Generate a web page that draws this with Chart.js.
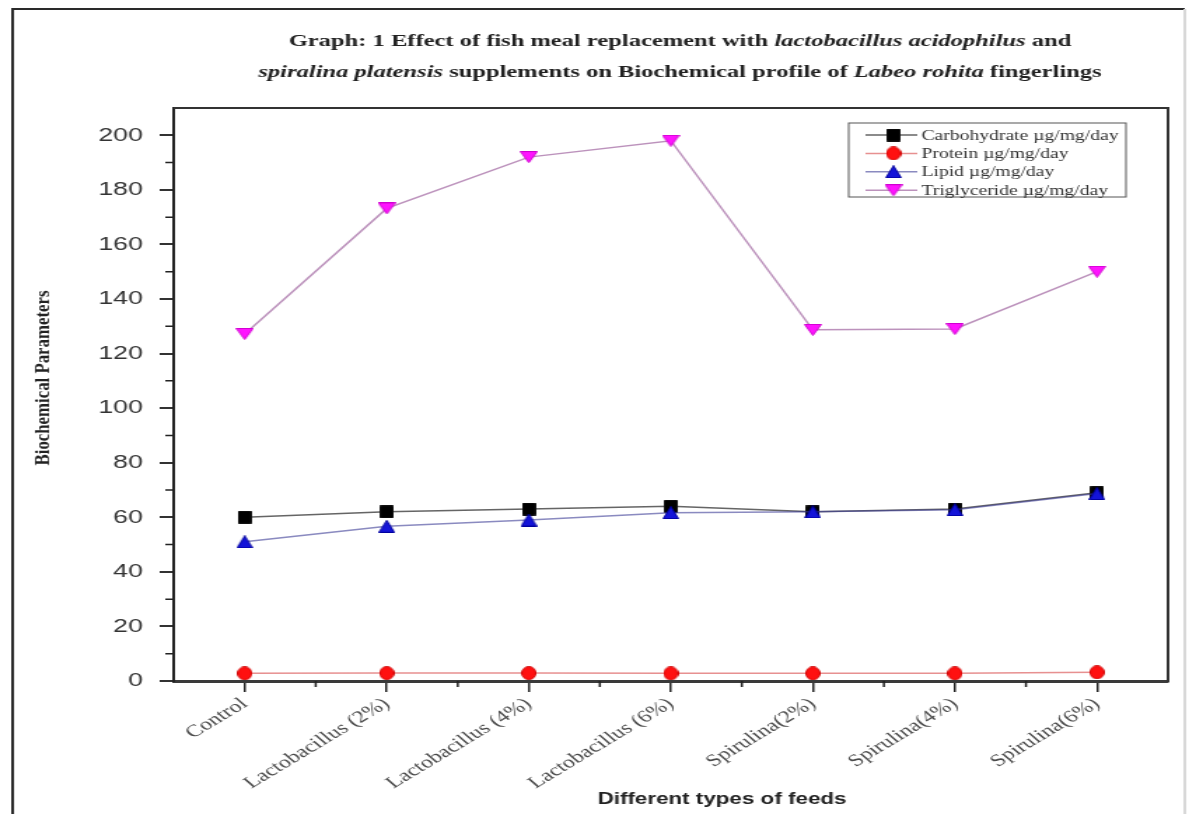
<!DOCTYPE html>
<html>
<head>
<meta charset="utf-8">
<title>Biochemical profile of Labeo rohita fingerlings</title>
<script src="https://cdn.jsdelivr.net/npm/chart.js@4.4.1/dist/chart.umd.min.js"></script>
<style>
  html, body { margin: 0; padding: 0; background: #fff; }
</style>
</head>
<body>
<!-- the figure is a horizontally stretched scan, so the canvas is drawn narrow and widened by css -->
<canvas id="graph" width="849" height="814" style="display:block;width:1189px;height:814px;"></canvas>
<script>
const SX = 1189 / 849;

const feeds = ['Control', 'Lactobacillus (2%)', 'Lactobacillus (4%)', 'Lactobacillus (6%)',
               'Spirulina(2%)', 'Spirulina(4%)', 'Spirulina(6%)'];
const carbohydrate = [60, 62, 63, 64, 62, 63, 69];
const protein = [2.8, 2.9, 2.9, 2.8, 2.8, 2.8, 3.2];
const lipid = [51, 56.7, 59, 61.7, 62, 62.8, 68.7];
const triglyceride = [127.2, 173.2, 192, 198, 128.7, 129, 150];
const seriesNames = ['Carbohydrate µg/mg/day', 'Protein µg/mg/day', 'Lipid µg/mg/day', 'Triglyceride µg/mg/day'];

const titleLine1 = [['Graph: 1 Effect of fish meal replacement with ', false],
                    ['lactobacillus acidophilus', true], [' and', false]];
const titleLine2 = [['spiralina platensis', true], [' supplements on Biochemical profile of ', false],
                    ['Labeo rohita', true], [' fingerlings', false]];
const yTitle = 'Biochemical Parameters';
const xTitle = 'Different types of feeds';

function marker(shape, fill, stroke, w, h) {
    const c = document.createElement('canvas');
    c.width = w;
    c.height = h;
    const g = c.getContext('2d');
    g.fillStyle = fill;
    g.strokeStyle = stroke;
    g.lineWidth = 1;
    g.beginPath();
    if (shape === 'square') {
        g.rect(0.5, 0.5, w - 1, h - 1);
    } else if (shape === 'circle') {
        g.ellipse(w / 2, h / 2, w / 2 - 0.5, h / 2 - 0.5, 0, 0, Math.PI * 2);
    } else if (shape === 'up') {
        g.moveTo(w / 2, 0.5); g.lineTo(w - 0.5, h - 0.5); g.lineTo(0.5, h - 0.5); g.closePath();
    } else {
        g.moveTo(0.5, 0.5); g.lineTo(w - 0.5, 0.5); g.lineTo(w / 2, h - 0.5); g.closePath();
    }
    g.fill();
    g.stroke();
    return c;
}

const markers = [
    marker('square', '#000', '#111', 10, 13),
    marker('circle', '#ff1010', '#d00000', 11, 14),
    marker('up', '#1414d8', '#0000a0', 12, 13),
    marker('down', '#ff14ff', '#d000d0', 13, 12)
];
const lineColors = ['rgba(50,50,50,0.75)', 'rgba(215,70,70,0.6)', 'rgba(60,60,150,0.6)', 'rgba(160,100,160,0.7)'];

const paperPlugin = {
    id: 'paper',
    beforeDraw: (chart) => {
        const ctx = chart.ctx;
        ctx.save();
        ctx.fillStyle = '#fff';
        ctx.fillRect(0, 0, chart.width, chart.height);
        ctx.lineWidth = 2;
        ctx.strokeStyle = '#2a2a2a';
        ctx.beginPath();
        ctx.moveTo(9, 830);
        ctx.lineTo(9, 9);
        ctx.lineTo(846, 9);
        ctx.stroke();
        ctx.strokeStyle = '#d8d8d8';
        ctx.beginPath();
        ctx.moveTo(846, 9);
        ctx.lineTo(846, 830);
        ctx.stroke();
        ctx.restore();
    }
};

function drawRuns(ctx, runs, cx, y) {
    const fontFor = it => (it ? 'italic ' : '') + 'bold 17.5px "Liberation Serif", serif';
    let total = 0;
    runs.forEach(r => { ctx.font = fontFor(r[1]); total += ctx.measureText(r[0]).width; });
    let x = cx - total / 2;
    runs.forEach(r => {
        ctx.font = fontFor(r[1]);
        ctx.fillText(r[0], x, y);
        x += ctx.measureText(r[0]).width;
    });
}

const decorPlugin = {
    id: 'decor',
    afterDraw: (chart) => {
        const ctx = chart.ctx;
        const area = chart.chartArea;
        const xs = chart.scales.x;
        const ys = chart.scales.y;
        ctx.save();

        // top and right edges of the plot box
        ctx.strokeStyle = '#333';
        ctx.lineWidth = 2;
        ctx.beginPath();
        ctx.moveTo(area.left, area.top);
        ctx.lineTo(area.right, area.top);
        ctx.lineTo(area.right, area.bottom + 1);
        ctx.stroke();

        // minor ticks
        ctx.lineWidth = 1.5;
        ctx.strokeStyle = '#222';
        ctx.beginPath();
        for (let v = 10; v < 200; v += 20) {
            const y = ys.getPixelForValue(v);
            ctx.moveTo(area.left - 6, y);
            ctx.lineTo(area.left, y);
        }
        for (let i = 0; i < feeds.length - 1; i++) {
            const x = (xs.getPixelForValue(i) + xs.getPixelForValue(i + 1)) / 2;
            ctx.moveTo(x, area.bottom);
            ctx.lineTo(x, area.bottom + 6);
        }
        ctx.stroke();

        // title
        ctx.fillStyle = '#222';
        ctx.textBaseline = 'alphabetic';
        drawRuns(ctx, titleLine1, 680 / SX, 46);
        drawRuns(ctx, titleLine2, 680 / SX, 77);

        // axis titles
        ctx.textAlign = 'center';
        ctx.textBaseline = 'middle';
        ctx.font = 'bold 16px "Liberation Sans", Arial, sans-serif';
        ctx.fillText(xTitle, 722 / SX, 800);

        ctx.save();
        ctx.translate(44 / SX, 378);
        ctx.scale(1 / SX, 1);
        ctx.rotate(-Math.PI / 2);
        ctx.font = 'bold 19px "Liberation Serif", serif';
        const k = 175 / ctx.measureText(yTitle).width;
        ctx.scale(k, 1);
        ctx.fillText(yTitle, 0, 0);
        ctx.restore();

        // legend
        const lx0 = 606, lx1 = 804, ly0 = 123, ly1 = 197;
        ctx.strokeStyle = '#555';
        ctx.lineWidth = 1;
        ctx.strokeRect(lx0, ly0, lx1 - lx0, ly1 - ly0);
        ctx.textAlign = 'left';
        ctx.font = '14px "Liberation Serif", serif';
        chart.data.datasets.forEach((ds, i) => {
            const y = 135 + i * 18.4;
            ctx.strokeStyle = ds.borderColor;
            ctx.lineWidth = 1.5;
            ctx.beginPath();
            ctx.moveTo(618, y);
            ctx.lineTo(655, y);
            ctx.stroke();
            const m = ds.pointStyle;
            ctx.drawImage(m, 638 - m.width / 2, y - m.height / 2);
            ctx.fillStyle = '#333';
            ctx.fillText(ds.label, 658, y + 1);
        });
        ctx.restore();
    }
};

const seriesData = [carbohydrate, protein, lipid, triglyceride];
const drawOrder = [2, 1, 0, 3];

new Chart(document.getElementById('graph'), {
    type: 'line',
    data: {
        labels: feeds,
        datasets: seriesData.map((d, i) => ({
            label: seriesNames[i],
            data: d,
            borderColor: lineColors[i],
            backgroundColor: lineColors[i],
            borderWidth: 1.5,
            pointStyle: markers[i],
            pointRadius: 6,
            tension: 0,
            order: drawOrder[i]
        }))
    },
    options: {
        responsive: false,
        animation: false,
        devicePixelRatio: 1,
        layout: { padding: { top: 108, right: 15, left: 0, bottom: 0 } },
        plugins: {
            legend: { display: false },
            tooltip: { enabled: false }
        },
        scales: {
            x: {
                type: 'category',
                offset: true,
                border: { display: true, color: '#3a3a3a', width: 3 },
                grid: { drawOnChartArea: false, offset: false, tickLength: 11, color: '#222', lineWidth: 1.5 },
                ticks: {
                    autoSkip: false,
                    minRotation: 40,
                    maxRotation: 40,
                    padding: 2,
                    color: '#4a4a4a',
                    font: { family: '"Liberation Serif", serif', size: 17 }
                },
                afterFit: (scale) => { scale.height = 133; }
            },
            y: {
                min: 0,
                max: 210,
                border: { display: true, color: '#222', width: 2 },
                grid: { drawOnChartArea: false, tickLength: 10, color: '#333', lineWidth: 2 },
                ticks: {
                    stepSize: 20,
                    padding: 12,
                    color: '#333',
                    font: { family: '"Liberation Sans", Arial, sans-serif', size: 19 }
                },
                afterBuildTicks: (axis) => { axis.ticks = axis.ticks.filter(t => t.value % 20 === 0); },
                afterFit: (scale) => { scale.width = 124; }
            }
        }
    },
    plugins: [paperPlugin, decorPlugin]
});
</script>
</body>
</html>
